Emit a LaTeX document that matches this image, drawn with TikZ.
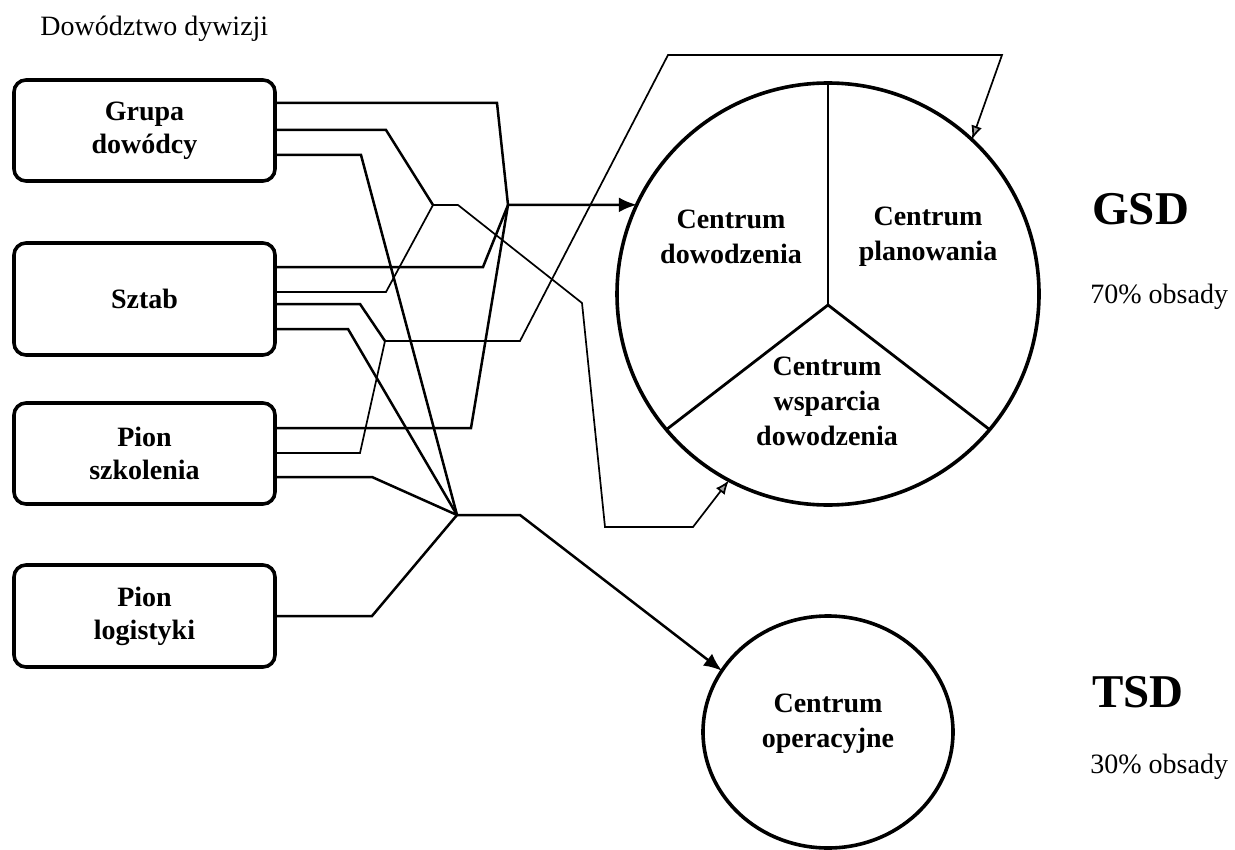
\documentclass[tikz,border=0pt]{standalone}
\usepackage{fontspec}
\setmainfont{Liberation Serif}
\usetikzlibrary{arrows.meta,calc,shapes.geometric}

\begin{document}
\begin{tikzpicture}[x=0.5pt,y=-0.5pt,
  unitbox/.style={draw,rounded corners=6pt,line width=1.8pt,minimum width=130.5pt,
    inner sep=0pt,align=center,font=\fontsize{14}{16.5}\selectfont\bfseries},
  centretext/.style={align=center,font=\fontsize{14}{17.5}\selectfont\bfseries},
  plain/.style={anchor=base west,inner sep=0pt},
  link/.style={line width=1.25pt},
  thinlink/.style={line width=0.85pt},
  bigtip/.style={-{Latex[length=9pt,width=7.5pt]}},
  greytip/.style={-{Latex[length=7pt,width=5.5pt,fill=gray!75]}},
  divider/.style={line width=1.4pt},
]
\useasboundingbox (0,0) rectangle (1235,850);

% title
\node[plain,font=\fontsize{14}{16}\selectfont] (title) at (40,36) {Dowództwo dywizji};

% division command units
\node[unitbox,minimum height=50.5pt] (grupa)  at (144.5,130.5) {Grupa\\dowódcy};
\node[unitbox,minimum height=56pt]   (sztab)  at (144.5,299)   {Sztab};
\node[unitbox,minimum height=50.5pt] (szkol)  at (144.5,453.5) {Pion\\szkolenia};
\node[unitbox,minimum height=51pt]   (logist) at (144.5,616)   {Pion\\logistyki};

% main command post (three sectors)
\node[draw,circle,line width=1.8pt,minimum size=211pt,inner sep=0pt,outer sep=0pt] (gsd) at (828,294) {};
\coordinate (hub) at ($(gsd.center)+(0,11)$);
\draw[divider] (gsd.90) -- (hub);
\draw[divider] (hub) -- (gsd.220);
\draw[divider] (hub) -- (gsd.320);
\node[centretext] (cdl) at (731,237) {Centrum\\dowodzenia};
\node[centretext] (cpl) at (928,237) {Centrum\\planowania};
\node[centretext] (cwl) at (827,401) {Centrum\\wsparcia\\dowodzenia};

% operations centre
\node[draw,ellipse,line width=1.8pt,minimum width=125pt,minimum height=116pt,inner sep=0pt,outer sep=0pt] (tsd) at (828,732) {};
\node[centretext] (col) at (828,724) {Centrum\\operacyjne};

% right-hand labels
\node[plain,font=\fontsize{23.5}{26}\selectfont\bfseries] (gsdl) at (1092,225) {GSD};
\node[plain,font=\fontsize{14}{16}\selectfont] (gsdp) at (1090,303) {70\% obsady};
\node[plain,font=\fontsize{23.5}{26}\selectfont\bfseries] (tsdl) at (1092,707) {TSD};
\node[plain,font=\fontsize{14}{16}\selectfont] (tsdp) at (1090,773) {30\% obsady};

% junctions
\coordinate (j1) at (508,205);
\coordinate (j2) at (433,205);
\coordinate (j4) at (385,341);
\coordinate (j5) at (457,515);

% into Centrum dowodzenia
\draw[link] ($(grupa.east)+(0,-27.5)$) -- (497,103) -- (j1);
\draw[link] ($(sztab.east)+(0,-32)$) -- (483,267) -- (j1);
\draw[link] ($(szkol.east)+(0,-25.5)$) -- (471,428) -- (j1);
\draw[link,bigtip] (j1) -- (gsd.155);

% into Centrum wsparcia dowodzenia
\draw[link] ($(grupa.east)+(0,-0.5)$) -- (386,130) -- (j2);
\draw[thinlink] ($(sztab.east)+(0,-7)$) -- (386,292) -- (j2);
\draw[thinlink,greytip] (j2) -- (458,205) -- (582,303) -- (605,527) -- (693,527) -- (gsd.242);

% into Centrum planowania
\draw[link] ($(sztab.east)+(0,5)$) -- (360,304) -- (j4);
\draw[thinlink] ($(szkol.east)+(0,-0.5)$) -- (360,453) -- (j4);
\draw[thinlink,greytip] (j4) -- (520,341) -- (668,55) -- (1002,55) -- (gsd.47);

% into Centrum operacyjne
\draw[link] ($(grupa.east)+(0,24.5)$) -- (361,155) -- (j5);
\draw[link] ($(sztab.east)+(0,30)$) -- (348,329) -- (j5);
\draw[link] ($(szkol.east)+(0,23.5)$) -- (372,477) -- (j5);
\draw[link] (logist.east) -- (372,616) -- (j5);
\draw[link,bigtip] (j5) -- (520,515) -- (tsd.150);

\end{tikzpicture}
\end{document}
